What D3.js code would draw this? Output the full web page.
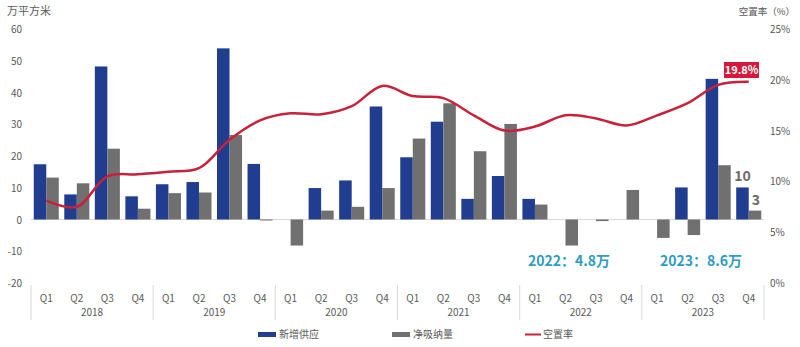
<!DOCTYPE html>
<html><head><meta charset="utf-8">
<script src="https://cdn.jsdelivr.net/npm/d3@7/dist/d3.min.js"></script>
<style>body{margin:0;background:#fff}svg{display:block}text{font-family:"Noto Sans CJK SC","Noto Sans",sans-serif}</style>
</head><body><svg id="c" width="800" height="347"></svg>
<script>
const years = ["2018","2019","2020","2021","2022","2023"];
const quarters = ["Q1","Q2","Q3","Q4"];
const supply = [17.4,7.9,48.2,7.3, 11.1,11.8,53.9,17.5, 0,9.9,12.3,35.6, 19.6,30.8,6.5,13.7, 6.5,0,0,0, 0,10.1,44.3,10.1];
const absorption = [13.2,11.4,22.3,3.4, 8.3,8.5,26.6,-0.3, -8.2,2.8,4.0,9.9, 25.5,36.6,21.5,30.1, 4.7,-8.2,-0.5,9.3, -5.8,-4.9,17.1,2.8];
const vacancy = [8.1,7.5,10.5,10.7, 10.95,11.3,14.1,16.0, 16.7,16.6,17.4,19.4, 18.4,18.2,16.5,15.0, 15.4,16.5,16.2,15.5, 16.5,17.7,19.5,19.8];
const leftTicks = [-20,-10,0,10,20,30,40,50,60];
const rightTicks = [0,5,10,15,20,25];

const svg = d3.select("#c");
const cats = [];
years.forEach(y => quarters.forEach(q => cats.push(y + "-" + q)));
const x = d3.scaleBand().domain(cats).range([31, 764]).paddingInner(0.18).paddingOuter(0.09);
const y = d3.scaleLinear().domain([-20, 60]).range([283, 29]);
const y2 = d3.scaleLinear().domain([0, 25]).range([283, 29]);
const bw = x.bandwidth() / 2;
const axisColor = "#595959";

// left axis labels
svg.append("g").selectAll("text").data(leftTicks).join("text")
  .attr("x", 22).attr("y", d => y(d) + 4).attr("text-anchor", "end")
  .attr("font-size", 10).attr("fill", axisColor).text(d => d);
// right axis labels
svg.append("g").selectAll("text").data(rightTicks).join("text")
  .attr("x", 770).attr("y", d => y2(d) + 4).attr("text-anchor", "start")
  .attr("font-size", 10).attr("fill", axisColor).text(d => d + "%");
svg.append("text").attr("x", 7).attr("y", 15).attr("font-size", 11).attr("fill", axisColor).text("万平方米");
svg.append("text").attr("x", 795).attr("y", 15).attr("font-size", 9.5).attr("fill", axisColor)
  .attr("text-anchor", "end").text("空置率（%）");

// zero line
svg.append("line").attr("x1", 31).attr("x2", 764).attr("y1", y(0)).attr("y2", y(0))
  .attr("stroke", "#d9d9d9").attr("stroke-width", 1);

// bars
svg.append("g").selectAll("rect").data(supply).join("rect")
  .attr("x", (d, i) => x(cats[i])).attr("width", bw)
  .attr("y", d => y(Math.max(0, d))).attr("height", d => Math.abs(y(d) - y(0)))
  .attr("fill", "#203d8f");
svg.append("g").selectAll("rect").data(absorption).join("rect")
  .attr("x", (d, i) => x(cats[i]) + bw).attr("width", bw)
  .attr("y", d => y(Math.max(0, d))).attr("height", d => Math.max(1, Math.abs(y(d) - y(0))))
  .attr("fill", "#707070");

// vacancy line
const line = d3.line().x((d, i) => x(cats[i]) + x.bandwidth() / 2).y(d => y2(d)).curve(d3.curveCatmullRom.alpha(0.5));
svg.append("path").attr("d", line(vacancy)).attr("fill", "none").attr("stroke", "#c8213a").attr("stroke-width", 2.5);

// category axis
const xg = svg.append("g");
xg.selectAll("text.q").data(cats).join("text").attr("class", "q")
  .attr("x", d => x(d) + x.bandwidth() / 2).attr("y", 302).attr("text-anchor", "middle")
  .attr("font-size", 10).attr("fill", axisColor).text(d => d.split("-")[1]);
const yearW = (764 - 31) / years.length;
xg.selectAll("text.y").data(years).join("text").attr("class", "y")
  .attr("x", (d, i) => 31 + yearW * (i + 0.5)).attr("y", 316).attr("text-anchor", "middle")
  .attr("font-size", 10).attr("fill", axisColor).text(d => d);
xg.selectAll("line").data(d3.range(years.length + 1)).join("line")
  .attr("x1", i => 31 + yearW * i).attr("x2", i => 31 + yearW * i)
  .attr("y1", 285).attr("y2", 320).attr("stroke", "#d9d9d9");

// annotations
const last = cats.length - 1;
svg.append("text").attr("x", x(cats[last]) + bw / 2).attr("y", y(supply[last]) - 6)
  .attr("font-size", 14).attr("font-weight", "bold").attr("fill", "#6b6b6b").attr("text-anchor", "middle").text("10");
svg.append("text").attr("x", x(cats[last]) + bw * 1.5 + 1).attr("y", y(absorption[last]) - 6)
  .attr("font-size", 14).attr("font-weight", "bold").attr("fill", "#6b6b6b").attr("text-anchor", "middle").text("3");
svg.append("rect").attr("x", 724).attr("y", 62).attr("width", 35).attr("height", 16).attr("fill", "#d5183b");
svg.append("text").attr("x", 741.5).attr("y", 74).attr("text-anchor", "middle").attr("font-size", 11)
  .attr("font-weight", "bold").attr("fill", "#fff").text(vacancy[last].toFixed(1) + "%");
svg.append("text").attr("x", 569).attr("y", 266).attr("text-anchor", "middle").attr("font-size", 14)
  .attr("font-weight", "bold").attr("fill", "#2e9cbf").text("2022：4.8万");
svg.append("text").attr("x", 701).attr("y", 266).attr("text-anchor", "middle").attr("font-size", 14)
  .attr("font-weight", "bold").attr("fill", "#2e9cbf").text("2023：8.6万");

// legend
const lg = svg.append("g").attr("font-size", 10).attr("fill", axisColor);
lg.append("rect").attr("x", 258).attr("y", 332).attr("width", 18).attr("height", 5).attr("fill", "#203d8f");
lg.append("text").attr("x", 279).attr("y", 338).text("新增供应");
lg.append("rect").attr("x", 392).attr("y", 332).attr("width", 18).attr("height", 5).attr("fill", "#707070");
lg.append("text").attr("x", 413).attr("y", 338).text("净吸纳量");
lg.append("line").attr("x1", 525).attr("x2", 541).attr("y1", 334.5).attr("y2", 334.5).attr("stroke", "#c8213a").attr("stroke-width", 2);
lg.append("text").attr("x", 543).attr("y", 338).text("空置率");
</script></body></html>
